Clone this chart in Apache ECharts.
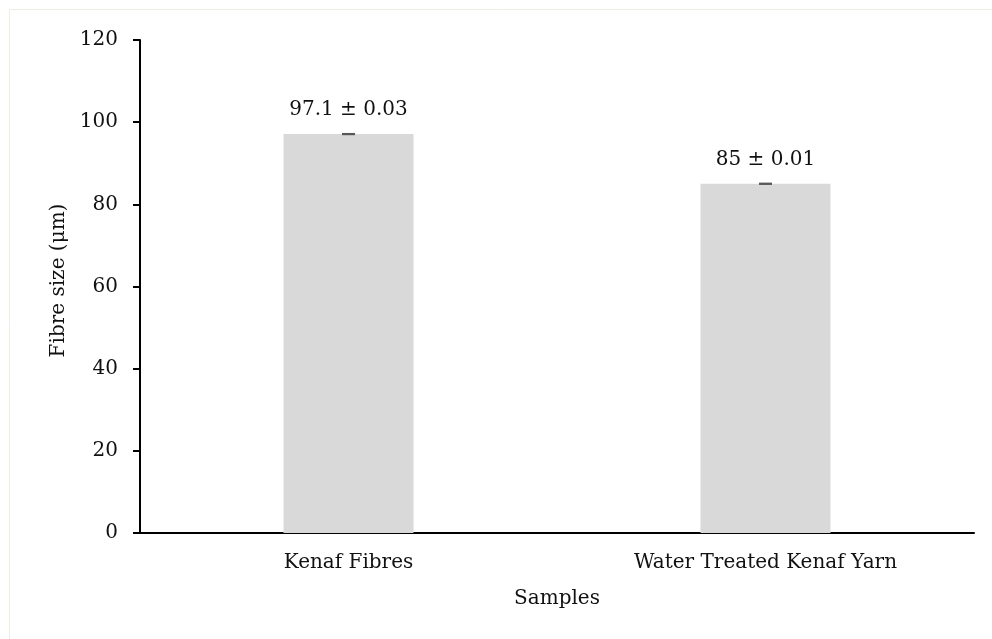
<!DOCTYPE html>
<html>
<head>
<meta charset="utf-8">
<script src="https://cdn.jsdelivr.net/npm/echarts@6/dist/echarts.min.js"></script>
<style>
html,body{margin:0;padding:0;background:#fff;}
#chart{width:992px;height:639px;}
</style>
</head>
<body>
<div id="chart"></div>
<script>
var categories = ['Kenaf Fibres', 'Water Treated Kenaf Yarn'];
var values = [97.1, 85];
var errors = [0.03, 0.01];
var labels = ['97.1 ± 0.03', '85 ± 0.01'];
var yTicks = [0, 20, 40, 60, 80, 100, 120];

var FONT = 'DejaVu Serif';
var FS = 20;
var chart = echarts.init(document.getElementById('chart'));
chart.setOption({
  animation: false,
  backgroundColor: '#ffffff',
  textStyle: { fontFamily: FONT },
  graphic: [{
    type: 'rect',
    shape: { x: 9.5, y: 9.5, width: 1100, height: 800 },
    style: { fill: 'none', stroke: '#eeede4', lineWidth: 1 },
    silent: true
  }],
  grid: { left: 140, right: 18, top: 40, bottom: 106, containLabel: false },
  xAxis: {
    type: 'category',
    data: categories,
    name: 'Samples',
    nameLocation: 'middle',
    nameGap: 56,
    nameTextStyle: { fontFamily: FONT, fontSize: FS, color: '#111' },
    axisLine: { lineStyle: { color: '#000', width: 2 } },
    axisTick: { show: false },
    axisLabel: { fontFamily: FONT, fontSize: FS, color: '#111', margin: 20 }
  },
  yAxis: {
    type: 'value',
    min: yTicks[0],
    max: yTicks[yTicks.length - 1],
    interval: 20,
    name: 'Fibre size (μm)',
    nameLocation: 'middle',
    nameGap: 70,
    nameTextStyle: { fontFamily: FONT, fontSize: FS, color: '#111', padding: [0, 0, 0, 12] },
    axisLine: { show: true, lineStyle: { color: '#000', width: 2 } },
    axisTick: { show: true, length: 7, lineStyle: { color: '#000', width: 2 } },
    axisLabel: { fontFamily: FONT, fontSize: FS, color: '#111', margin: 22 },
    splitLine: { show: false }
  },
  series: [{
    type: 'bar',
    data: values,
    barWidth: 130,
    itemStyle: { color: '#d9d9d9' },
    label: {
      show: true,
      position: 'top',
      distance: 14,
      fontFamily: FONT,
      fontSize: FS,
      color: '#111',
      formatter: function (p) { return labels[p.dataIndex]; }
    },
    z: 2
  }, {
    type: 'custom',
    data: values.map(function (v, i) { return [i, v, errors[i]]; }),
    z: 3,
    renderItem: function (params, api) {
      var x = api.value(0), v = api.value(1), e = api.value(2);
      var hi = api.coord([x, v + e]);
      var lo = api.coord([x, v - e]);
      var half = 6.5;
      var st = { stroke: '#595959', lineWidth: 2 };
      return {
        type: 'group',
        children: [
          { type: 'line', shape: { x1: hi[0], y1: hi[1], x2: lo[0], y2: lo[1] }, style: st },
          { type: 'line', shape: { x1: hi[0] - half, y1: hi[1], x2: hi[0] + half, y2: hi[1] }, style: st },
          { type: 'line', shape: { x1: lo[0] - half, y1: lo[1], x2: lo[0] + half, y2: lo[1] }, style: st }
        ]
      };
    }
  }]
});
</script>
</body>
</html>
